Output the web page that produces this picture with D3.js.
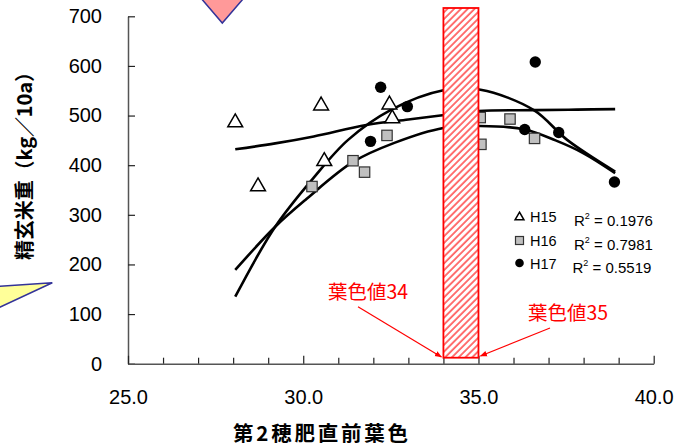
<!DOCTYPE html>
<html>
<head>
<meta charset="utf-8">
<script src="https://cdn.jsdelivr.net/npm/d3@7"></script>
<style>
  body { margin: 0; background: #fff; }
  svg text { font-family: "Liberation Sans", Arial, "Noto Sans CJK JP", sans-serif; }
  .jp { font-family: "Noto Sans CJK JP", sans-serif; }
</style>
</head>
<body>
<svg id="chart" width="685" height="448"></svg>
<script>
// scatter data
const h15 = [[28.06, 489], [28.71, 360], [30.51, 523], [30.6, 411], [32.46, 525], [32.54, 497]];
const h16 = [[30.25, 357], [31.42, 409], [31.75, 386], [32.39, 460], [35.05, 496], [35.9, 493], [35.07, 442], [36.6, 454]];
const h17 = [[32.21, 557], [32.97, 518], [31.92, 448], [36.62, 608], [36.32, 472], [37.29, 466], [38.88, 366]];

// trend lines (as drawn in the picture)
const trend15 = [[28.06, 432], [29.2, 444], [30.3, 458], [31.8, 481], [33.0, 492], [34.03, 501], [35.0, 509], [36.6, 511], [37.8, 512], [38.9, 513]];
const trend16 = [[28.06, 189], [29.2, 276], [30.06, 330], [31.43, 407], [32.6, 445], [34.0, 475], [35.06, 479], [36.32, 472], [37.2, 450], [38.0, 424], [38.9, 384]];
const trend17 = [[28.06, 135], [29.2, 276], [30.3, 375], [31.28, 451], [32.49, 511], [34.0, 551], [35.06, 552], [36.58, 511], [37.53, 451], [38.9, 387]];

const seriesNames = ["H15", "H16", "H17"];
const r2Labels = ["0.1976", "0.7981", "0.5519"];

const xMajor = [25, 30, 35, 40];
const xMinor = d3.range(26, 40).filter(v => v % 5 !== 0);
const yTicks = d3.range(0, 800, 100);

const band = [34, 35];   // 葉色値34〜35

function drawChart() {
    let svg = d3.select("#chart");

    let x = d3.scaleLinear().domain([25, 40]).range([128, 653.7]);
    let y = d3.scaleLinear().domain([0, 700]).range([363.7, 16.3]);

    let defs = svg.append("defs");
    let pat = defs.append("pattern")
        .attr("id", "hatch")
        .attr("patternUnits", "userSpaceOnUse")
        .attr("width", 4.8)
        .attr("height", 4.8)
        .attr("patternTransform", "rotate(45)");
    pat.append("rect").attr("width", 4.8).attr("height", 4.8).attr("fill", "#fff");
    pat.append("line")
        .attr("x1", 1).attr("y1", 0).attr("x2", 1).attr("y2", 4.8)
        .attr("stroke", "#ff0000").attr("stroke-width", 1.1);

    let arrow = defs.append("marker")
        .attr("id", "arr")
        .attr("viewBox", "0 0 10 10")
        .attr("refX", 9).attr("refY", 5)
        .attr("markerWidth", 6).attr("markerHeight", 6)
        .attr("orient", "auto");
    arrow.append("path").attr("d", "M0,1 L10,5 L0,9 Z").attr("fill", "#ff0000");

    // callout shapes cut off at the edges
    svg.append("path")
        .attr("d", "M201.7,-1 L243,-1 L222.3,23 Z")
        .attr("fill", "#ff9999").attr("stroke", "#333399").attr("stroke-width", 1.5);
    svg.append("path")
        .attr("d", "M-2,286.5 L52.3,282.7 L-2,308 Z")
        .attr("fill", "#ffff99").attr("stroke", "#333399").attr("stroke-width", 1.5);

    // axes
    svg.append("g")
        .attr("transform", "translate(128,0)")
        .call(d3.axisLeft(y).tickValues(yTicks).tickSize(-7).tickPadding(26).tickSizeOuter(0));
    svg.append("g")
        .attr("transform", "translate(0,363.7)")
        .call(d3.axisBottom(x).tickValues(xMajor).tickFormat(d3.format(".1f")).tickSize(-8).tickPadding(26).tickSizeOuter(0));
    svg.append("g")
        .attr("transform", "translate(0,363.7)")
        .call(d3.axisBottom(x).tickValues(xMinor).tickFormat("").tickSize(-6).tickSizeOuter(0))
        .call(g => g.select(".domain").remove());

    svg.selectAll(".domain").attr("stroke", "#555").attr("stroke-width", 1.5);
    svg.selectAll(".tick line").attr("stroke", "#222").attr("stroke-width", 1.2);
    svg.selectAll(".tick text").attr("font-size", 20).attr("fill", "#000")
        .attr("font-family", "'Liberation Sans', Arial, sans-serif");

    // trend lines
    let line = d3.line()
        .x(d => x(d[0]))
        .y(d => y(d[1]))
        .curve(d3.curveCatmullRom);
    [trend15, trend16, trend17].forEach(t => {
        svg.append("path")
            .attr("d", line(t))
            .attr("fill", "none")
            .attr("stroke", "#000")
            .attr("stroke-width", 2.6)
            .attr("stroke-linejoin", "round");
    });

    // points
    let tri = d3.symbol().type(d3.symbolTriangle).size(95);
    svg.selectAll("path.h15")
        .data(h15)
        .enter()
        .append("path")
        .attr("class", "h15")
        .attr("d", tri)
        .attr("transform", d => `translate(${x(d[0])},${y(d[1]) + 1.5})`)
        .attr("fill", "#fff").attr("stroke", "#000").attr("stroke-width", 1.5);

    svg.selectAll("rect.h16")
        .data(h16)
        .enter()
        .append("rect")
        .attr("class", "h16")
        .attr("x", d => x(d[0]) - 5.2)
        .attr("y", d => y(d[1]) - 5.2)
        .attr("width", 10.4).attr("height", 10.4)
        .attr("fill", "#c0c0c0").attr("stroke", "#333").attr("stroke-width", 1.2);

    svg.selectAll("circle.h17")
        .data(h17)
        .enter()
        .append("circle")
        .attr("class", "h17")
        .attr("cx", d => x(d[0]))
        .attr("cy", d => y(d[1]))
        .attr("r", 5.7)
        .attr("fill", "#000");

    // hatched band 34-35
    svg.append("rect")
        .attr("x", x(band[0]))
        .attr("y", 8)
        .attr("width", x(band[1]) - x(band[0]))
        .attr("height", 357.7 - 8)
        .attr("fill", "url(#hatch)")
        .attr("stroke", "#ff0000").attr("stroke-width", 1.8);

    // annotations
    svg.append("text").attr("class", "jp")
        .attr("x", 328).attr("y", 299)
        .attr("font-size", 19.5).attr("fill", "#ff0000")
        .attr("textLength", 80).attr("lengthAdjust", "spacingAndGlyphs")
        .text("葉色値34");
    svg.append("line")
        .attr("x1", 358).attr("y1", 306.7).attr("x2", x(band[0]) - 2).attr("y2", 357)
        .attr("stroke", "#ff0000").attr("stroke-width", 1.2).attr("marker-end", "url(#arr)");
    svg.append("text").attr("class", "jp")
        .attr("x", 528).attr("y", 320)
        .attr("font-size", 19.5).attr("fill", "#ff0000")
        .attr("textLength", 80).attr("lengthAdjust", "spacingAndGlyphs")
        .text("葉色値35");
    svg.append("line")
        .attr("x1", 550).attr("y1", 328).attr("x2", x(band[1]) + 2).attr("y2", 356)
        .attr("stroke", "#ff0000").attr("stroke-width", 1.2).attr("marker-end", "url(#arr)");

    // legend
    let rowY = [216.5, 240.5, 263];
    let lg = svg.append("g");
    lg.append("path")
        .attr("d", d3.symbol().type(d3.symbolTriangle).size(34))
        .attr("transform", `translate(519.5,${rowY[0] + 0.8})`)
        .attr("fill", "#fff").attr("stroke", "#000").attr("stroke-width", 1.5);
    lg.append("rect")
        .attr("x", 515.5).attr("y", rowY[1] - 4).attr("width", 8).attr("height", 8)
        .attr("fill", "#c0c0c0").attr("stroke", "#333").attr("stroke-width", 1.2);
    lg.append("circle")
        .attr("cx", 519.5).attr("cy", rowY[2]).attr("r", 4.3).attr("fill", "#000");

    seriesNames.forEach((name, i) => {
        lg.append("text")
            .attr("x", 530).attr("y", rowY[i] + 5.5)
            .attr("font-size", 14.5)
            .text(name);
        let t = lg.append("text")
            .attr("x", 574 - (i === 2 ? 1.5 : 0)).attr("y", rowY[i] + 9.5)
            .attr("font-size", 15);
        t.append("tspan").text("R");
        t.append("tspan").attr("font-size", 9).attr("dy", -7).text("2");
        t.append("tspan").attr("dy", 7).text(" = " + r2Labels[i]);
    });

    // axis titles
    svg.append("text").attr("class", "jp")
        .attr("transform", "translate(32,161) rotate(-90)")
        .attr("text-anchor", "middle")
        .attr("font-size", 20).attr("font-weight", "bold")
        .attr("textLength", 198).attr("lengthAdjust", "spacing")
        .text("精玄米重（kg／10a）");
    svg.append("text").attr("class", "jp")
        .attr("x", 320.5).attr("y", 441)
        .attr("text-anchor", "middle")
        .attr("font-size", 20.5).attr("font-weight", "bold")
        .attr("textLength", 175).attr("lengthAdjust", "spacing")
        .text("第2穂肥直前葉色");
}

drawChart();
</script>
</body>
</html>
